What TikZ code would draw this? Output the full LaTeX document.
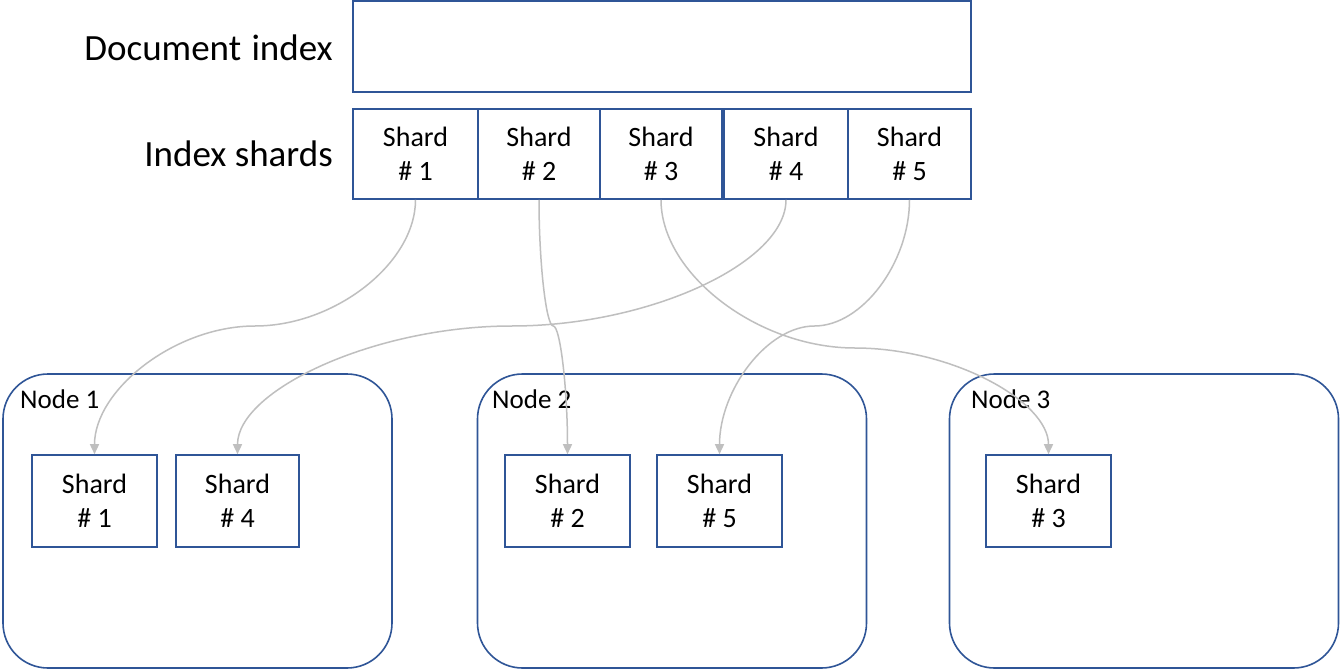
\documentclass[tikz,border=0pt]{standalone}
\usepackage{fontspec}
\setmainfont{Carlito}
\usetikzlibrary{calc,arrows.meta}
\definecolor{boxblue}{HTML}{2F5597}
\definecolor{linkgray}{HTML}{BFBFBF}
\newcommand\shardlink[3]{%
  \draw[link] let \p1=(#1.south), \p2=(#2.north), \p3=(0,#3) in
    (\p1) .. controls (\x1,{(\y1+\y3)/2}) and ({(3*\x1+\x2)/4},\y3) ..
    ({(\x1+\x2)/2},\y3) .. controls ({(\x1+3*\x2)/4},\y3) and (\x2,{(\y3+\y2)/2}) .. (\p2);}
\begin{document}
\begin{tikzpicture}[x=1pt,y=-1pt,
  bigbox/.style={draw=boxblue,line width=1.6pt,inner sep=0pt},
  cellbox/.style={draw=boxblue,line width=1.6pt,inner sep=0pt,minimum height=90pt,
     align=center,font=\fontsize{28}{34}\selectfont},
  innerbox/.style={draw=boxblue,line width=1.6pt,inner sep=0pt,minimum width=125pt,minimum height=92pt,
     align=center,font=\fontsize{28}{34}\selectfont},
  hostbox/.style={draw=boxblue,line width=1.6pt,rounded corners=45pt,inner sep=0pt,
     minimum width=389pt,minimum height=294pt},
  sidelabel/.style={anchor=base east,inner sep=0pt,font=\fontsize{37}{44}\selectfont},
  hostlabel/.style={anchor=base west,inner sep=0pt,font=\fontsize{27}{32}\selectfont},
  link/.style={draw=linkgray,line width=1.5pt,-{Triangle[length=10pt,width=9pt]}}]
\useasboundingbox (0,0) rectangle (1341,671);
\fill[white] (0,0) rectangle (1341,671);

% document index
\node[bigbox,minimum width=618pt,minimum height=91pt] (doc) at (662,46.5) {};
\node[sidelabel] (doclabel) at (333,61) {Document\hspace{2pt} index};
\node[sidelabel] (shlabel) at (333,167) {Index shards};

% index shards
\node[cellbox,minimum width=125pt] (t1) at (415.5,154) {Shard\\\# 1};
\node[cellbox,minimum width=122pt] (t2) at (539,154) {Shard\\\# 2};
\node[cellbox,minimum width=122pt] (t3) at (661,154) {Shard\\\# 3};
\node[cellbox,minimum width=124pt] (t4) at (786,154) {Shard\\\# 4};
\node[cellbox,minimum width=123pt] (t5) at (909.5,154) {Shard\\\# 5};

% hosts
\node[hostbox] (h1) at (197.5,521) {};
\node[hostbox] (h2) at (672,521) {};
\node[hostbox] (h3) at (1144,521) {};
\node[hostlabel] (h1l) at (20,408) {Node 1};
\node[hostlabel] (h2l) at (492,408) {Node 2};
\node[hostlabel] (h3l) at (971,408) {Node 3};

% shards on hosts
\node[innerbox] (s1) at (94.5,501) {Shard\\\# 1};
\node[innerbox,minimum width=123pt] (s4) at (237.5,501) {Shard\\\# 4};
\node[innerbox] (s2) at (567.5,501) {Shard\\\# 2};
\node[innerbox] (s5) at (719.5,501) {Shard\\\# 5};
\node[innerbox] (s3) at (1048.5,501) {Shard\\\# 3};

% links
\shardlink{t1}{s1}{326}
\shardlink{t4}{s4}{326}
\shardlink{t2}{s2}{326}
\shardlink{t5}{s5}{326}
\shardlink{t3}{s3}{348}
\end{tikzpicture}
\end{document}
